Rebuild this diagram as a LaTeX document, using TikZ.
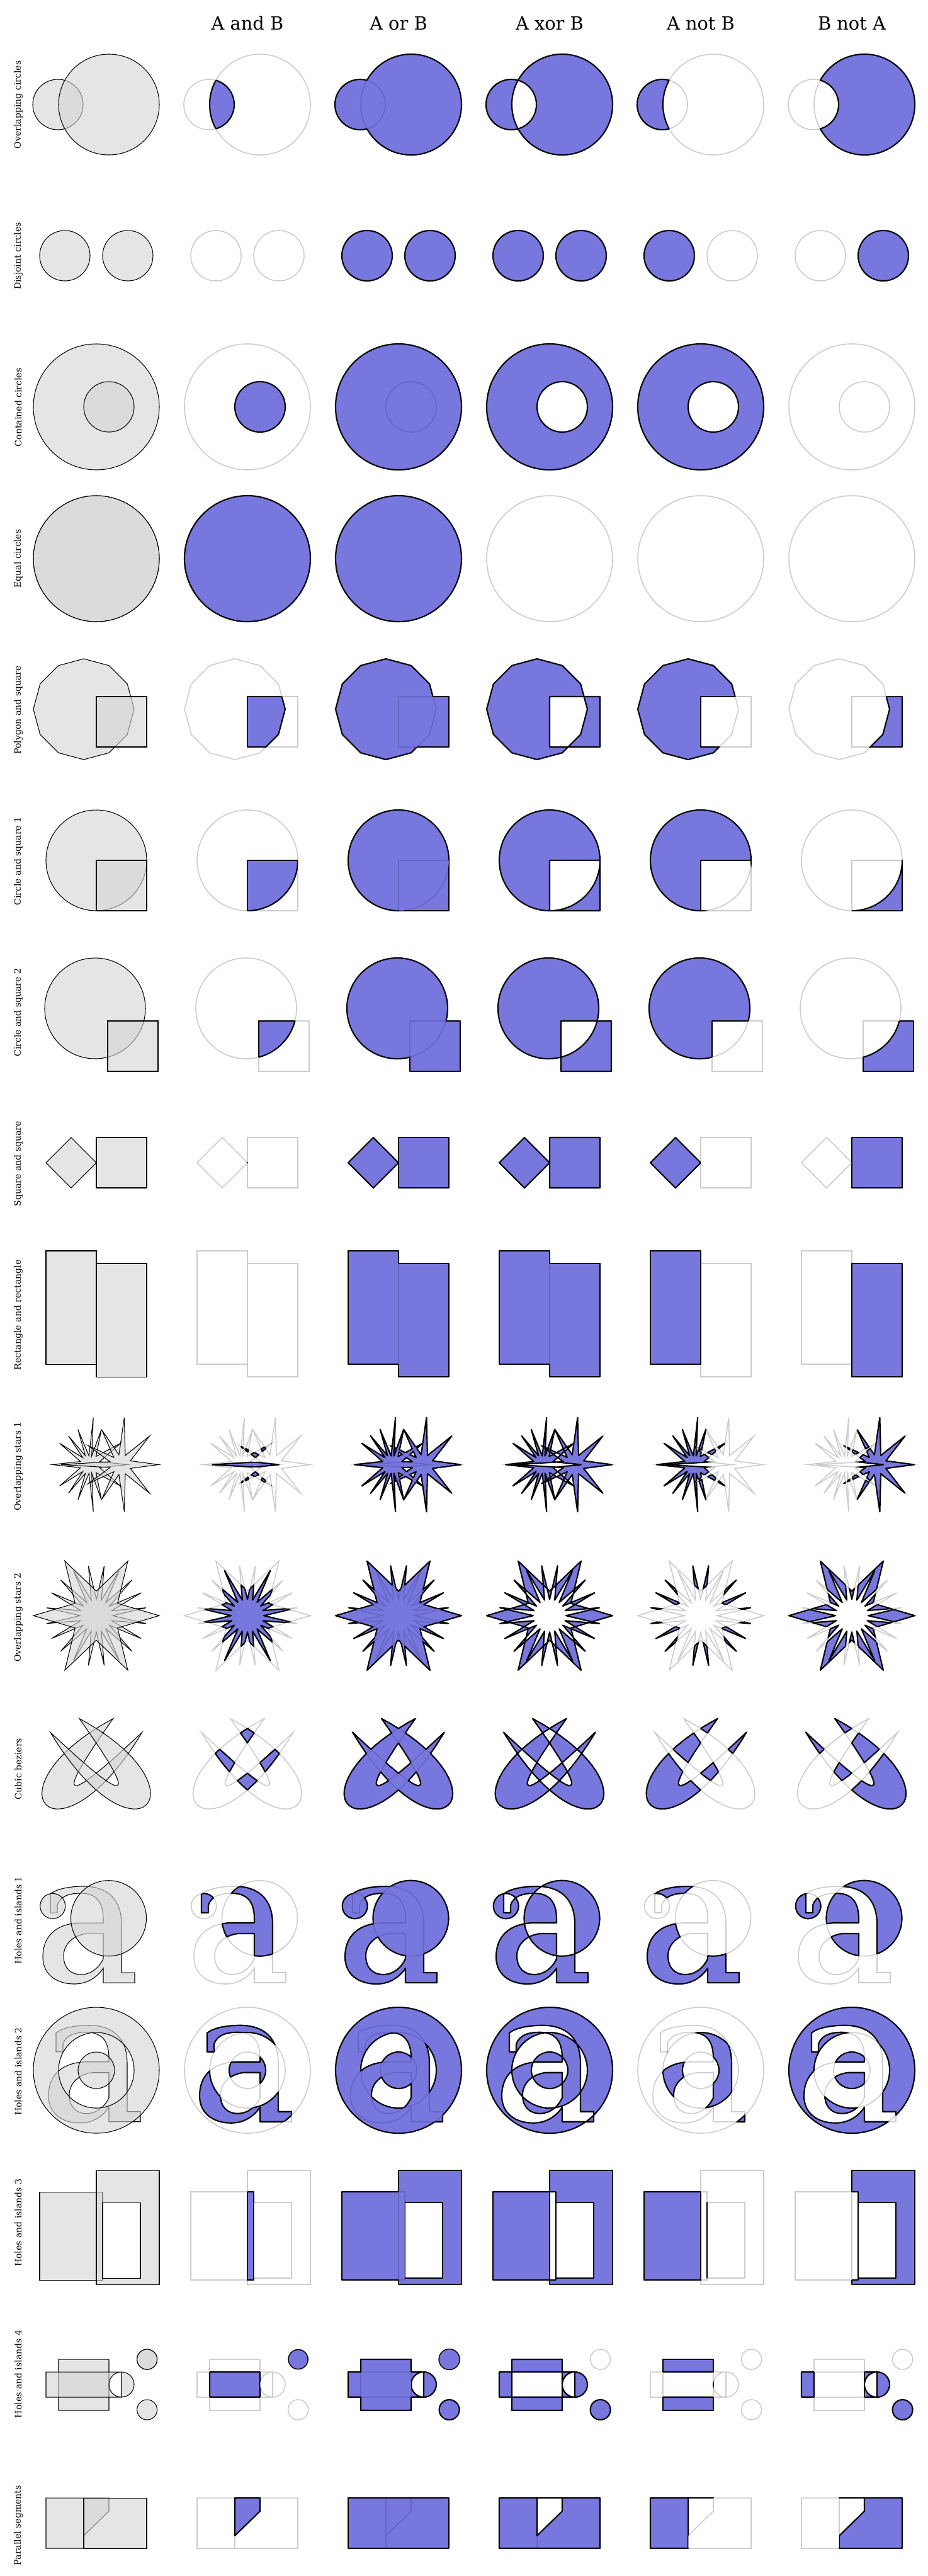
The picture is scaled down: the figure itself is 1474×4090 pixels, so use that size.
\documentclass[tikz,border=0pt]{standalone}
\usepackage{fontspec}
\setmainfont{DejaVu Serif}

\definecolor{resfill}{RGB}{119,119,221}
\definecolor{resline}{RGB}{100,100,196}
\definecolor{ghost}{RGB}{204,204,204}
\definecolor{infill}{RGB}{213,213,213}

\tikzset{
  inshape/.style={fill=infill, fill opacity=0.6, draw=black, line width=0.3pt, even odd rule},
  ghostline/.style={draw=ghost, line width=0.45pt},
  result/.style={fill=resfill, even odd rule},
  resedge/.style={draw=black, line width=0.6pt, line join=round},
  seeline/.style={draw=resline, line width=0.45pt},
  rowlabel/.style={rotate=90, inner sep=0pt, font=\fontsize{4}{5}\selectfont},
  colhead/.style={inner sep=0pt, font=\fontsize{8.2}{10}\selectfont},
}

% complement of a shape, for clipping outside it
\newcommand\outside[1]{(-2000,-2000) rectangle (4000,6000) #1}
% star: centre, first point, remaining angle/radius pairs
\newcommand\starpath[4]{(#1,#2) +(#3) \foreach \t/\r in {#4}{ -- +(\t:\r)} -- cycle}
% letter a, top left corner at (#1,#2)
\newcommand\aglyph[2]{%
  ({#1+12},{#2+12}) -- ({#1+12},{#2+42}) -- ({#1+23},{#2+42}) -- ({#1+23},{#2+30})
  .. controls ({#1+28},{#2+14}) and ({#1+45},{#2+11}) .. ({#1+60},{#2+11})
  .. controls ({#1+85},{#2+11}) and ({#1+96},{#2+25}) .. ({#1+96},{#2+52})
  -- ({#1+96},{#2+58}) -- ({#1+57},{#2+58})
  .. controls ({#1+20},{#2+60}) and ({#1+0},{#2+80}) .. ({#1+0},{#2+112})
  .. controls ({#1+0},{#2+140}) and ({#1+22},{#2+155}) .. ({#1+50},{#2+155})
  .. controls ({#1+70},{#2+155}) and ({#1+86},{#2+145}) .. ({#1+96},{#2+130})
  -- ({#1+96},{#2+153}) -- ({#1+146},{#2+153}) -- ({#1+146},{#2+137}) -- ({#1+125},{#2+137})
  -- ({#1+125},{#2+60})
  .. controls ({#1+125},{#2+18}) and ({#1+100},{#2+0}) .. ({#1+65},{#2+0})
  .. controls ({#1+42},{#2+0}) and ({#1+22},{#2+4}) .. cycle
  ({#1+96},{#2+75}) -- ({#1+70},{#2+75})
  .. controls ({#1+45},{#2+78}) and ({#1+33},{#2+95}) .. ({#1+33},{#2+110})
  .. controls ({#1+33},{#2+130}) and ({#1+45},{#2+140}) .. ({#1+60},{#2+140})
  .. controls ({#1+78},{#2+140}) and ({#1+90},{#2+128}) .. ({#1+96},{#2+115})
  -- cycle}

% one column per operation
\def\pG{}
\newcommand\cellinput{\path[inshape] \pA; \path[inshape] \pB;}
\newcommand\cellghost{\path[ghostline] \pA \pB \pG;}
\newcommand\celland{%
  \begin{scope}[shift={(240,0)}]
    \cellghost
    \begin{scope}[even odd rule]
      \clip \pA;
      \path[result] \pB;
      \path[resedge] \pB;
    \end{scope}
    \begin{scope}[even odd rule]
      \clip \pB;
      \path[resedge] \pA;
    \end{scope}
  \end{scope}}
\newcommand\orseelines{%
  \begin{scope}[even odd rule]
    \clip \pA;
    \path[seeline] \pB;
  \end{scope}
  \begin{scope}[even odd rule]
    \clip \pB;
    \path[seeline] \pA;
  \end{scope}}
\newcommand\cellor{%
  \begin{scope}[shift={(480,0)}]
    \cellghost
    \path[result] \pA;
    \path[result] \pB;
    \orseelines
    \begin{scope}[even odd rule]
      \clip \outside{\pB};
      \path[resedge] \pA;
    \end{scope}
    \begin{scope}[even odd rule]
      \clip \outside{\pA};
      \path[resedge] \pB;
    \end{scope}
  \end{scope}}
\newcommand\cellxor{%
  \begin{scope}[shift={(720,0)}]
    \cellghost
    \path[result] \pA \pB;
    \path[resedge] \pA \pB;
  \end{scope}}
\newcommand\cellanotb{%
  \begin{scope}[shift={(960,0)}]
    \cellghost
    \begin{scope}[even odd rule]
      \clip \outside{\pB};
      \path[result] \pA;
      \path[resedge] \pA;
    \end{scope}
    \begin{scope}[even odd rule]
      \clip \pA;
      \path[resedge] \pB;
    \end{scope}
  \end{scope}}
\newcommand\cellbnota{%
  \begin{scope}[shift={(1200,0)}]
    \cellghost
    \begin{scope}[even odd rule]
      \clip \outside{\pA};
      \path[result] \pB;
      \path[resedge] \pB;
    \end{scope}
    \begin{scope}[even odd rule]
      \clip \pB;
      \path[resedge] \pA;
    \end{scope}
  \end{scope}}
\newcommand\boolrow[3]{%
  \node[rowlabel] (#1) at (29,#3) {#2};
  \cellinput \celland \cellor \cellxor \cellanotb \cellbnota}

\begin{document}
\begin{tikzpicture}[x=0.01cm, y=-0.01cm]
  \useasboundingbox (0,0) rectangle (1474,4090);
  \fill[white] (0,0) rectangle (1474,4090);

  % Column titles.
  \node[colhead] (hand)   at (393,37)  {A and B};
  \node[colhead] (hor)    at (633,37)  {A or B};
  \node[colhead] (hxor)   at (873,37)  {A xor B};
  \node[colhead] (hanotb) at (1113,37) {A not B};
  \node[colhead] (hbnota) at (1353,37) {B not A};

  % Circles.
  \def\pA{(92,166) circle[radius=40]}
  \def\pB{(173,166) circle[radius=80]}
  \boolrow{overlap}{Overlapping circles}{166.4}

  \def\pA{(103,406) circle[radius=40]}
  \def\pB{(203,406) circle[radius=40]}
  \boolrow{disjoint}{Disjoint circles}{406.6}

  \def\pA{(153,646) circle[radius=100]}
  \def\pB{(173,646) circle[radius=40]}
  \boolrow{contained}{Contained circles}{646.8}

  % Equal circles: the empty results keep only the grey outlines.
  \def\pA{(153,887) circle[radius=100]}
  \def\pB{(153,887) circle[radius=100]}
  \node[rowlabel] (equal) at (29,887) {Equal circles};
  \cellinput
  \foreach \k in {1,2}{
    \begin{scope}[shift={(240*\k,0)}]
      \cellghost
      \path[result, resedge] \pA;
    \end{scope}
  }
  \foreach \k in {3,4,5}{
    \begin{scope}[shift={(240*\k,0)}]
      \cellghost
    \end{scope}
  }

  % Polygons and squares.
  \def\pA{\starpath{133}{1126}{0:80}{30/80,60/80,90/80,120/80,150/80,180/80,210/80,240/80,270/80,300/80,330/80}}
  \def\pB{(153,1106) rectangle (233,1186)}
  \boolrow{polysq}{Polygon and square}{1127.2}

  \def\pA{(153,1366) circle[radius=80]}
  \def\pB{(153,1366) rectangle (233,1446)}
  \boolrow{circsqa}{Circle and square 1}{1367.4}

  \def\pA{(151,1601) circle[radius=80]}
  \def\pB{(171,1621) rectangle (251,1701)}
  \boolrow{circsqb}{Circle and square 2}{1607.6}

  \def\pA{(73,1846) -- (113,1806) -- (153,1846) -- (113,1886) -- cycle}
  \def\pB{(153,1806) rectangle (233,1886)}
  \boolrow{sqsq}{Square and square}{1847.8}

  % Rectangles sharing one edge.
  \def\pA{(73,1986) rectangle (153,2166)}
  \def\pB{(153,2006) rectangle (233,2186)}
  \def\pU{(73,1986) -- (153,1986) -- (153,2006) -- (233,2006) -- (233,2186)
    -- (153,2186) -- (153,2166) -- (73,2166) -- cycle}
  \node[rowlabel] (rectrect) at (29,2088) {Rectangle and rectangle};
  \cellinput
  \begin{scope}[shift={(240,0)}]
    \cellghost
  \end{scope}
  \foreach \k in {2,3}{
    \begin{scope}[shift={(240*\k,0)}]
      \cellghost
      \path[result] \pU;
      \draw[seeline] (153,2006) -- (153,2166);
      \path[resedge] \pU;
    \end{scope}
  }
  \begin{scope}[shift={(960,0)}]
    \cellghost
    \path[result, resedge] \pA;
  \end{scope}
  \begin{scope}[shift={(1200,0)}]
    \cellghost
    \path[result, resedge] \pB;
  \end{scope}

  % Stars.
  \def\pA{\starpath{143}{2325.4}{0:60}{17/16,35/59,53/16,72/59,79/14,86/75,97/14,109/59,118/16,127/57,136/16,145/59,162/16,180/60,198/16,215/59,224/16,233/57,242/16,251/59,263/14,274/75,281/14,288/59,306/16,325/59,343/16}}
  \def\pB{\starpath{192.2}{2325.4}{0:60}{22/16,45/64,65/16,86/75,102/16,119/63,135/16,150/60,165/18,180/95,195/18,210/60,225/16,241/63,258/16,274/75,295/16,315/64,338/16}}
  \boolrow{starsa}{Overlapping stars 1}{2328.2}

  \def\pA{\starpath{153}{2565.2}{9:80}{18/26,27/80,36/26,45/80,54/26,63/80,72/26,81/80,90/26,99/80,108/26,117/80,126/26,135/80,144/26,153/80,162/26,171/80,180/26,189/80,198/26,207/80,216/26,225/80,234/26,243/80,252/26,261/80,270/26,279/80,288/26,297/80,306/26,315/80,324/26,333/80,342/26,351/80,0/26}}
  \def\pB{\starpath{153}{2565.2}{0:100}{30/39,60/100,90/39,120/100,150/39,180/100,210/39,240/100,270/39,300/100,330/39}}
  \boolrow{starsb}{Overlapping stars 2}{2568.4}

  % Curves: two hairpins, each an outer and an inner cubic.
  \def\pA{(225.7,2750.4) .. controls (90.7,2975) and (-29.3,2841) .. (179.7,2728.7)
    .. controls (77.7,2872) and (107.2,2862) .. cycle}
  \def\pB{(80,2750.4) .. controls (215,2975) and (335,2841) .. (126,2728.7)
    .. controls (228,2872) and (198.5,2862) .. cycle}
  \boolrow{bezier}{Cubic beziers}{2808.6}

  % Holes and islands.
  \def\pA{\aglyph{68}{2995}}
  \def\pB{(172.5,3045.7) circle[radius=60] (83.7,3026.3) circle[radius=20]}
  \boolrow{holesa}{Holes and islands 1}{3048.8}

  \def\pA{\aglyph{77}{3215.7}}
  \def\pB{(153,3287) circle[radius=100] (153,3287) circle[radius=60] (153,3287) circle[radius=29]}
  \boolrow{holesb}{Holes and islands 2}{3289}

  \def\pA{(63,3480) rectangle (163,3620)}
  \def\pB{(153,3446) rectangle (253,3627) (163,3497) rectangle (223,3617)}
  \boolrow{holesc}{Holes and islands 3}{3529.2}

  % the top small circle belongs to both shapes
  \def\pA{(93,3746) rectangle (173,3827) (233.6,3746) circle[radius=16]}
  \def\pB{(73,3766) rectangle (193,3806) (193,3786) circle[radius=20]
    (233.6,3746) circle[radius=16] (233.6,3826) circle[radius=16]}
  \node[rowlabel] (holesd) at (29,3769.4) {Holes and islands 4};
  \cellinput \celland \cellor
  \def\pA{(93,3746) rectangle (173,3827)}
  \def\pB{(73,3766) rectangle (193,3806) (193,3786) circle[radius=20]
    (233.6,3826) circle[radius=16]}
  \def\pG{(233.6,3746) circle[radius=16]}
  \cellxor \cellanotb \cellbnota
  \def\pG{}

  % Parallel segments.
  \def\pA{(73,3966) -- (173,3966) -- (173,3987) -- (133,4026) -- (133,4046) -- (73,4046) -- cycle}
  \def\pB{(133,3966) rectangle (233,4046)}
  \def\pI{(133,3966) -- (173,3966) -- (173,3987) -- (133,4026) -- cycle}
  \def\pU{(73,3966) rectangle (233,4046)}
  \node[rowlabel] (parallel) at (29,4009.6) {Parallel segments};
  \cellinput
  \begin{scope}[shift={(240,0)}]
    \cellghost
    \path[result, resedge] \pI;
  \end{scope}
  \begin{scope}[shift={(480,0)}]
    \cellghost
    \path[result] \pU;
    \orseelines
    \path[resedge] \pU;
  \end{scope}
  \begin{scope}[shift={(720,0)}]
    \cellghost
    \path[result] \pA \pB;
    \draw[seeline] (133,4026) -- (133,4046);
    \path[resedge] \pU \pI;
  \end{scope}
  \cellanotb \cellbnota
\end{tikzpicture}
\end{document}
